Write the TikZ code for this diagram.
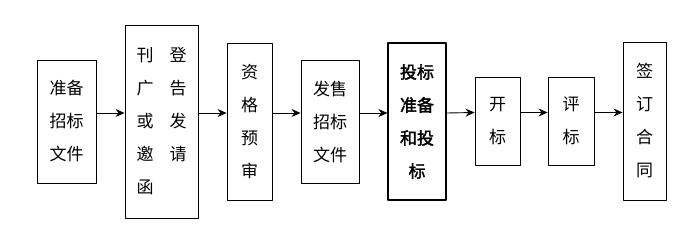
\documentclass[tikz,border=0pt]{standalone}
\usepackage{fontspec}
\newfontfamily\cjk{Noto Sans CJK SC}[AutoFakeBold=2]
\usetikzlibrary{arrows.meta}
\tikzset{
  stage/.style={draw, line width=0.9pt, inner sep=0pt, align=center,
    font=\cjk\fontsize{17}{33}\selectfont},
  flow/.style={line width=0.9pt, -{Stealth[length=9pt,width=8pt]}}
}
\begin{document}
\begin{tikzpicture}[x=1pt, y=-1pt, line join=round]
\useasboundingbox (0,0) rectangle (700,234);
				\node[stage, minimum width=59pt, minimum height=123pt] (prep) at (66.5,121.5) {准备\\招标\\文件};
				\node[stage, minimum width=73pt, minimum height=193pt, align=left] (notice) at (161.5,121.5)
				{刊\hspace{16pt}登\\广\hspace{16pt}告\\或\hspace{16pt}发\\邀\hspace{16pt}请\\函};
				\node[stage, minimum width=45pt, minimum height=157pt] (qual) at (249.5,121.5) {资\\格\\预\\审};
				\node[stage, minimum width=58pt, minimum height=123pt] (sell) at (330,121.5) {发售\\招标\\文件};
				\node[stage, minimum width=58pt, minimum height=157pt, line width=1.2pt, font=\cjk\bfseries\fontsize{17}{33}\selectfont] (bid) at (417,121.5) {投标\\准备\\和投\\标};
				\node[stage, minimum width=45pt, minimum height=88pt] (open) at (497.5,121) {开\\标};
				\node[stage, minimum width=46pt, minimum height=88pt] (eval) at (571,121) {评\\标};
				\node[stage, minimum width=43pt, minimum height=158pt] (sign) at (644.5,121) {签\\订\\合\\同};
				% arrows sit a little above the box centres
				\foreach \a/\b in {prep/notice, notice/qual, qual/sell, sell/bid, bid/open, open/eval, eval/sign}
				\draw[flow] ([yshift=8.5pt]\a.east) -- ([yshift=8.5pt]\b.west);
\end{tikzpicture}
\end{document}
